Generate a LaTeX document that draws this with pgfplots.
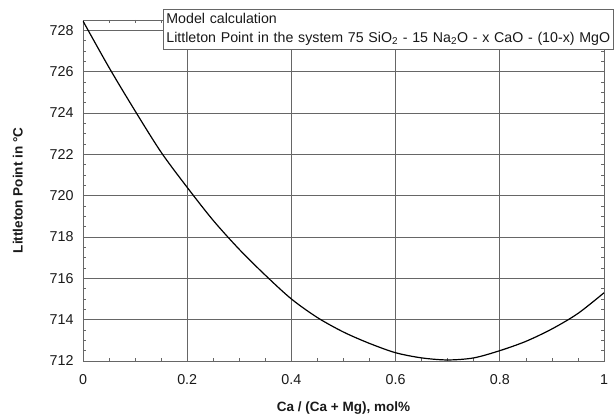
\documentclass[border=0pt]{standalone}
\usepackage{fontspec}
\setmainfont{Liberation Sans}
\usepackage{pgfplots}
\pgfplotsset{compat=1.18}

\begin{document}
\begin{tikzpicture}[x=1pt,y=1pt]
	% page size = reference size in px
	\useasboundingbox (0,0) rectangle (614,417);

	\begin{axis}[
		at				= {(83pt,56pt)},
		anchor			= south west,
		scale only axis,
		width			= 521pt,
		height			= 341pt,
		xmin = 0, xmax = 1,
		ymin = 712, ymax = 728.5,
		xtick			= {0,0.2,...,1},
		ytick			= {712,714,...,728},
		minor x tick num = 3,
		minor y tick num = 3,
		grid			= major,
		major grid style = {gray!80!black, line width=0.8pt},
		axis line style	= {gray!80!black, line width=0.8pt},
		tick align		= inside,
		major tick length = 0pt,
		minor tick length = 3pt,
		minor tick style = {gray!80!black, line width=0.6pt},
		/pgf/number format/assume math mode=true,
		ticklabel style	= {font=\fontsize{14.3}{16}\selectfont, color=black!90},
		xticklabel style = {yshift=-10pt},
		yticklabel style = {xshift=-6pt},
		xlabel			= {Ca / (Ca + Mg), mol\%},
		ylabel			= {Littleton Point in °C},
		label style		= {font=\bfseries\fontsize{13.5}{16}\selectfont, color=black!90},
		xlabel style	= {at={(axis description cs:0.5,-0.138)}, anchor=center},
		ylabel style	= {at={(axis description cs:-0.125,0.5)}, anchor=center},
	]
		% model curve
		\addplot[black, line width=1.2pt, smooth, mark=none] coordinates {
			(0,728.45) (0.05,726.2) (0.1,724.1) (0.15,722.1) (0.2,720.4)
			(0.25,718.8) (0.3,717.4) (0.35,716.15) (0.4,715.0) (0.45,714.1)
			(0.5,713.4) (0.55,712.85) (0.6,712.4) (0.65,712.15) (0.7,712.05)
			(0.75,712.15) (0.8,712.5) (0.85,712.95) (0.9,713.55) (0.95,714.3)
			(1.0,715.3)
		};
	\end{axis}

	% legend / title box over the top of the plot
	\node[draw=gray!80!black, line width=0.8pt, fill=white, anchor=north west,
		inner xsep=3pt, inner ysep=4pt, text width=444pt, align=left,
		font=\fontsize{14.2}{19}\selectfont, text=black!90]
		at (163,408) {Model calculation\\
		Littleton Point in the system 75 SiO\textsubscript{2} - 15 Na\textsubscript{2}O - x CaO - (10-x) MgO};
\end{tikzpicture}
\end{document}
